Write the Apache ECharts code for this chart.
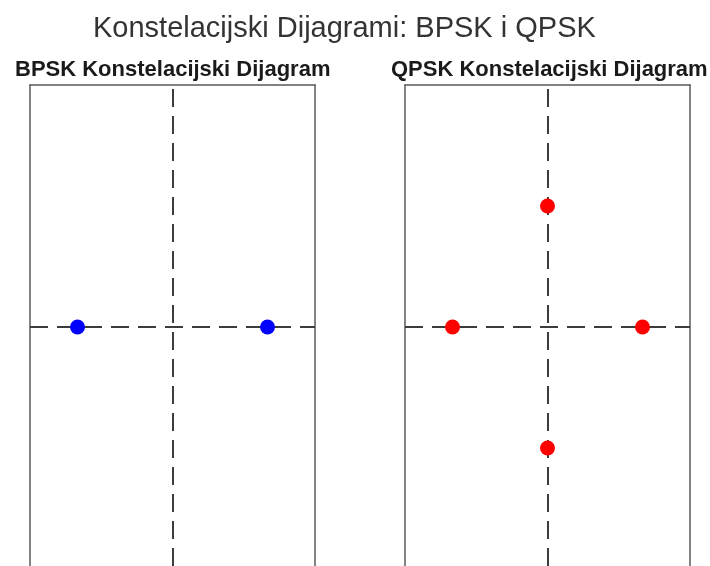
<!DOCTYPE html>
<html>
<head>
<meta charset="utf-8">
<script src="https://cdn.jsdelivr.net/npm/echarts@6/dist/echarts.min.js"></script>
<style>
html,body{margin:0;padding:0;background:#fff;}
#c{width:710px;height:566px;}
</style>
</head>
<body>
<div id="c"></div>
<script>
// Data
const mainTitle = 'Konstelacijski Dijagrami: BPSK i QPSK';
const subTitles = ['BPSK Konstelacijski Dijagram', 'QPSK Konstelacijski Dijagram'];
const bpskI = [-1, 1];
const bpskQ = [0, 0];
const qpskI = [0, -1, 1, 0];
const qpskQ = [1, 0, 0, -1];
const xRange = [-1.5, 1.5];
const yRange = [-1.975, 2];   // visible part of the (cropped) axis

const chart = echarts.init(document.getElementById('c'));
const font = 'Liberation Sans, Arial, sans-serif';
const dashStyle = { color: '#3c3c3c', width: 2, type: [18, 9], opacity: 1 };
const frameLine = { show: true, onZero: false, lineStyle: { color: '#5a5a5a', width: 1.5 } };

function axisX(i) {
  return { gridIndex: i, type: 'value', min: xRange[0], max: xRange[1], position: 'top',
    axisLine: frameLine, axisTick: { show: false }, axisLabel: { show: false }, splitLine: { show: false } };
}
function axisY(i, pos) {
  return { gridIndex: i, type: 'value', min: yRange[0], max: yRange[1], position: pos,
    axisLine: frameLine, axisTick: { show: false }, axisLabel: { show: false }, splitLine: { show: false } };
}
function guideLines() {
  return {
    silent: true, symbol: 'none', label: { show: false }, lineStyle: dashStyle,
    animation: false,
    data: [
      [{ coord: [xRange[0], 0] }, { coord: [xRange[1], 0] }],
      [{ coord: [0, yRange[0]] }, { coord: [0, yRange[1]] }]
    ]
  };
}
const zip = (a, b) => a.map((v, k) => [v, b[k]]);

chart.setOption({
  animation: false,
  backgroundColor: '#fff',
  title: [
    { text: mainTitle, left: 88, top: 9,
      textStyle: { fontFamily: font, fontSize: 29, fontWeight: 'normal', color: '#333' } },
    { text: subTitles[0], left: 10, top: 54,
      textStyle: { fontFamily: font, fontSize: 22, fontWeight: 'bold', color: '#1a1a1a' } },
    { text: subTitles[1], left: 386, top: 54,
      textStyle: { fontFamily: font, fontSize: 22, fontWeight: 'bold', color: '#1a1a1a' } }
  ],
  grid: [
    { left: 30, top: 85, width: 285, bottom: 0, show: false },
    { left: 405, top: 85, width: 285, bottom: 0, show: false }
  ],
  xAxis: [axisX(0), axisX(1)],
  yAxis: [axisY(0, 'left'), axisY(0, 'right'), axisY(1, 'left'), axisY(1, 'right')],
  series: [
    { type: 'scatter', xAxisIndex: 0, yAxisIndex: 0, data: zip(bpskI, bpskQ), symbolSize: 15, z: 5,
      itemStyle: { color: '#0000ff', opacity: 1 }, markLine: guideLines() },
    { type: 'scatter', xAxisIndex: 1, yAxisIndex: 2, data: zip(qpskI, qpskQ), symbolSize: 15, z: 5,
      itemStyle: { color: '#ff0000', opacity: 1 }, markLine: guideLines() }
  ]
});
</script>
</body>
</html>
